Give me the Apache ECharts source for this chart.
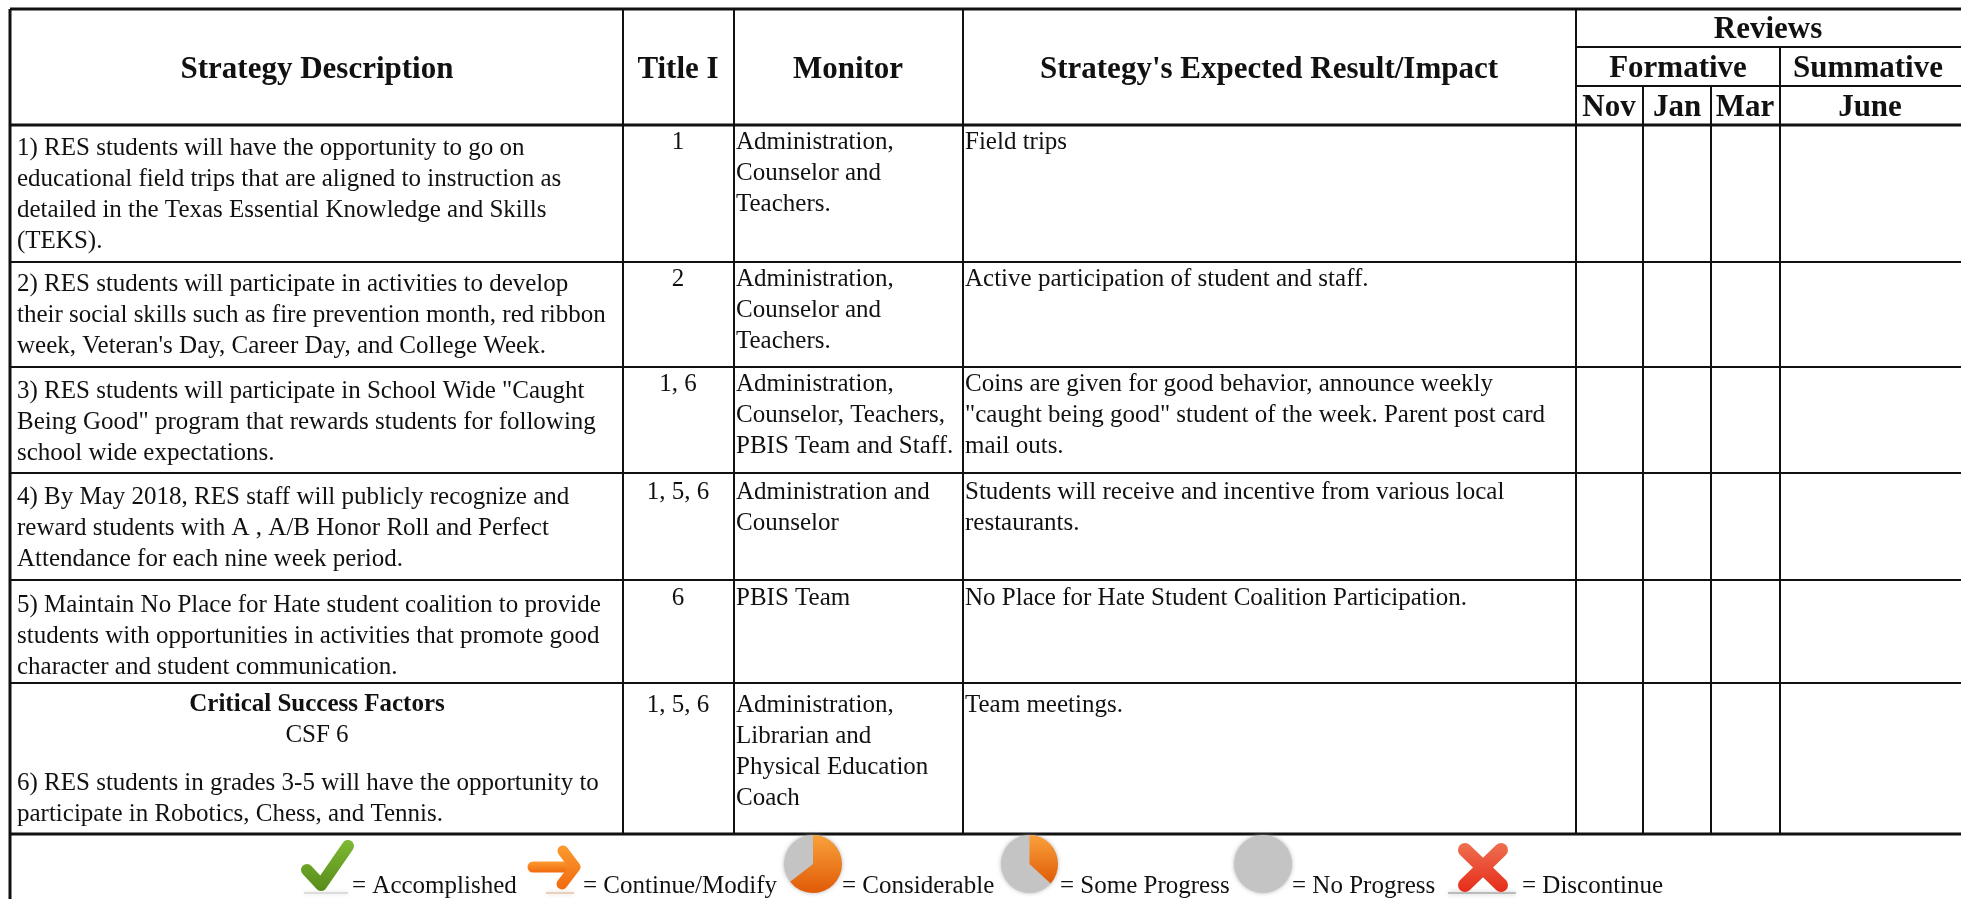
<!DOCTYPE html>
<html>
<head>
<meta charset="utf-8">
<style>html,body{margin:0;padding:0;background:#fff}#container{width:1961px;height:899px}</style>
<script src="https://cdn.jsdelivr.net/npm/echarts@6/dist/echarts.min.js"></script>
</head>
<body>
<div id="container"></div>
<script>
const strategies = [
	"1) RES students will have the opportunity to go on\neducational field trips that are aligned to instruction as\ndetailed in the Texas Essential Knowledge and Skills\n(TEKS).",
	"2) RES students will participate in activities to develop\ntheir social skills such as fire prevention month, red ribbon\nweek, Veteran's Day, Career Day, and College Week.",
	"3) RES students will participate in School Wide \"Caught\nBeing Good\" program that rewards students for following\nschool wide expectations.",
	"4) By May 2018, RES staff will publicly recognize and\nreward students with A , A/B Honor Roll and Perfect\nAttendance for each nine week period.",
	"5) Maintain No Place for Hate student coalition to provide\nstudents with opportunities in activities that promote good\ncharacter and student communication.",
	"6) RES students in grades 3-5 will have the opportunity to\nparticipate in Robotics, Chess, and Tennis.",
];
const titleCodes = ['1', '2', '1, 6', '1, 5, 6', '6', '1, 5, 6'];
const monitors = [
	'Administration,\nCounselor and\nTeachers.',
	'Administration,\nCounselor and\nTeachers.',
	'Administration,\nCounselor, Teachers,\nPBIS Team and Staff.',
	'Administration and\nCounselor',
	'PBIS Team',
	'Administration,\nLibrarian and\nPhysical Education\nCoach',
];
const impacts = [
	'Field trips',
	'Active participation of student and staff.',
	'Coins are given for good behavior, announce weekly\n"caught being good" student of the week. Parent post card\nmail outs.',
	'Students will receive and incentive from various local\nrestaurants.',
	'No Place for Hate Student Coalition Participation.',
	'Team meetings.',
];
const headers = ['Strategy Description', 'Title I', 'Monitor', "Strategy's Expected Result/Impact"];
const reviewHeaders = ['Reviews', 'Formative', 'Summative', 'Nov', 'Jan', 'Mar', 'June'];
const legendLabels = ['= Accomplished', '= Continue/Modify', '= Considerable', '= Some Progress', '= No Progress', '= Discontinue'];

// layout in picture pixels
const colX = [623, 734, 963, 1576, 1643, 1711, 1780];
const rowY = [125, 262, 367, 473, 580, 683, 834];
const font = '"Liberation Serif", serif';

const ruleLines = [
	[10, 9, 1961, 9, 3], [10, 9, 10, 899, 3], [1576, 47, 1961, 47, 2], [1576, 86, 1961, 86, 2],
	[1780, 47, 1780, 125, 2], [1643, 86, 1643, 125, 2], [1711, 86, 1711, 125, 2],
];
colX.forEach((x, i) => ruleLines.push([x, i < 4 ? 9 : 125, x, 834, 2]));
rowY.forEach((y, i) => ruleLines.push([10, y, 1961, y, i === 0 || i === 6 ? 3 : 2]));

const textItems = [];
// y is the middle of the first line
function put(x, y, text, size, weight, align) {
	textItems.push({ x, y: y - 15.5, text, size, weight, align });
}
const mids = [317, 678, 848, 1269];
headers.forEach((h, i) => put(mids[i], 70, h, 31, 'bold', 'center'));
const reviewPos = [[1768, 30], [1678, 69], [1868, 69], [1609, 108], [1677, 108], [1745, 108], [1870, 108]];
reviewHeaders.forEach((h, i) => put(reviewPos[i][0], reviewPos[i][1], h, 31, 'bold', 'center'));

const strategyY = [148, 284, 391, 497, 605, 783];
const cellY = [142, 279, 384, 492, 598, 705];
strategies.forEach((s, i) => {
	put(17, strategyY[i], s, 25, 'normal', 'left');
	put(678, cellY[i], titleCodes[i], 25, 'normal', 'center');
	put(736, cellY[i], monitors[i], 25, 'normal', 'left');
	put(965, cellY[i], impacts[i], 25, 'normal', 'left');
});
put(317, 705, 'Critical Success Factors', 25, 'bold', 'center');
put(317, 735, 'CSF 6', 25, 'normal', 'center');
const legendX = [352, 583, 842, 1060, 1292, 1522];
legendLabels.forEach((l, i) => put(legendX[i], 886, l, 25, 'normal', 'left'));

const pieIcons = [[784, 842, 835, 893, 232], [1001, 1058, 835, 893, 132], [1234, 1292, 835, 893, 0]];
const markIcons = [
	{ paths: [[[307, 870], [321, 885], [348, 846]]], width: 12, top: '#7fb934', bottom: '#578c1a', shadow: [326, 893, 22, '#ddd'] },
	{ paths: [[[533, 867], [574, 867]], [[563, 851], [575, 867], [562, 884]]], width: 11, top: '#fc9a30', bottom: '#f16a0e', shadow: [560, 893, 14, '#e6d2c0'] },
	{ paths: [[[1465, 850], [1501, 885]], [[1501, 850], [1465, 885]]], width: 14, top: '#ee7050', bottom: '#e62c1a', shadow: [1482, 893, 34, '#bbb'] },
];

const myChart = echarts.init(document.getElementById('container'));
const orange = new echarts.graphic.LinearGradient(0, 0, 0, 1, [
	{ offset: 0, color: '#f9a23c' },
	{ offset: 1, color: '#e05a06' },
]);

function pieIcon(api, x0, x1, y0, y1, sweep) {
	const a = api.coord([x0, y0]);
	const b = api.coord([x1, y1]);
	const ry = (b[1] - a[1]) / 2;
	const children = [{
		type: 'sector',
		shape: { cx: 0, cy: 0, r: ry, r0: 0, startAngle: 0, endAngle: Math.PI * 2 },
		style: { fill: '#c4c4c4', shadowBlur: 4, shadowColor: 'rgba(150,150,150,0.7)' },
	}];
	if (sweep > 0) {
		children.push({
			type: 'sector',
			shape: { cx: 0, cy: 0, r: ry, r0: 0, startAngle: -Math.PI / 2, endAngle: -Math.PI / 2 + sweep * Math.PI / 180, clockwise: true },
			style: { fill: orange },
		});
	}
	return { type: 'group', x: (a[0] + b[0]) / 2, y: (a[1] + b[1]) / 2, scaleX: (b[0] - a[0]) / (b[1] - a[1]), children };
}

function markIcon(api, icon) {
	const s = api.coord([icon.shadow[0], icon.shadow[1]]);
	const fill = new echarts.graphic.LinearGradient(0, 0, 0, 1, [
		{ offset: 0, color: icon.top },
		{ offset: 1, color: icon.bottom },
	]);
	const children = [{
		type: 'rect',
		shape: { x: s[0] - icon.shadow[2], y: s[1] - 1, width: icon.shadow[2] * 2, height: 2 },
		style: { fill: icon.shadow[3], shadowBlur: 5, shadowColor: icon.shadow[3] },
	}];
	icon.paths.forEach((path) => {
		children.push({
			type: 'polyline',
			shape: { points: path.map((p) => api.coord(p)) },
			style: { stroke: fill, fill: 'none', lineWidth: icon.width, lineCap: 'round', lineJoin: 'round' },
		});
	});
	return { type: 'group', children };
}

const option = {
	animation: false,
	grid: { left: 0, right: 0, top: 0, bottom: 0 },
	xAxis: { type: 'value', min: 0, max: 1961, show: false },
	yAxis: { type: 'value', min: 0, max: 899, inverse: true, show: false },
	series: [
		{
			type: 'custom',
			coordinateSystem: 'cartesian2d',
			data: ruleLines,
			silent: true,
			clip: false,
			renderItem: (params, api) => {
				const a = api.coord([api.value(0), api.value(1)]);
				const b = api.coord([api.value(2), api.value(3)]);
				return { type: 'line', shape: { x1: a[0], y1: a[1], x2: b[0], y2: b[1] }, style: { stroke: '#111', lineWidth: api.value(4) } };
			},
			encode: { x: [0, 2], y: [1, 3] },
		},
		{
			type: 'custom',
			coordinateSystem: 'cartesian2d',
			data: pieIcons,
			silent: true,
			renderItem: (params, api) => pieIcon(api, api.value(0), api.value(1), api.value(2), api.value(3), api.value(4)),
			encode: { x: [0, 1], y: [2, 3] },
		},
		{
			type: 'custom',
			coordinateSystem: 'cartesian2d',
			data: markIcons.map((m) => [m.shadow[0], m.shadow[1]]),
			silent: true,
			renderItem: (params, api) => markIcon(api, markIcons[params.dataIndex]),
			encode: { x: 0, y: 1 },
		},
		{
			type: 'custom',
			coordinateSystem: 'cartesian2d',
			data: textItems.map((t) => [t.x, t.y]),
			silent: true,
			renderItem: (params, api) => {
				const t = textItems[params.dataIndex];
				const p = api.coord([t.x, t.y]);
				return {
					type: 'text',
					x: p[0],
					y: p[1],
					style: {
						text: t.text,
						fill: '#111',
						font: t.weight + ' ' + t.size + 'px ' + font,
						align: t.align,
						verticalAlign: 'top',
						lineHeight: 31,
					},
				};
			},
			encode: { x: 0, y: 1 },
		},
	],
};

myChart.setOption(option);
</script>
</body>
</html>
